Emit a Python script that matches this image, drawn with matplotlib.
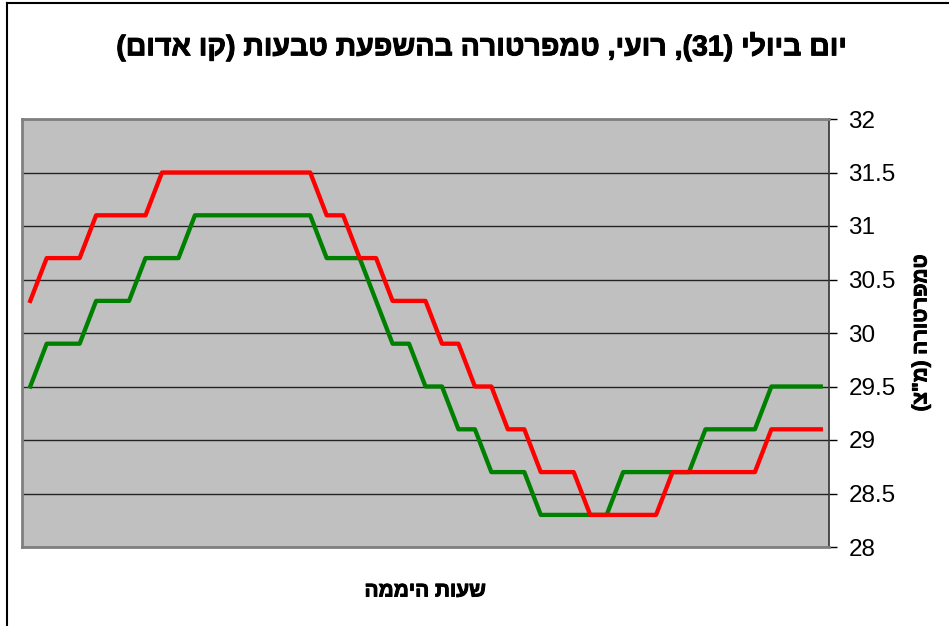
""" temperature along the day - Roei, July 31st (red line = with rings) """

import re
import numpy
import matplotlib
matplotlib.use('Agg')
import matplotlib.pyplot as plt
import matplotlib.patheffects as pe
from matplotlib.lines import Line2D

plt.rcParams['font.family'] = ['Liberation Sans', 'DejaVu Sans']

# Hebrew texts in logical order
title = 'יום ביולי (31), רועי, טמפרטורה בהשפעת טבעות (קו אדום)'
xTitle = 'שעות היממה'
yTitle = 'טמפרטורה (מ"צ)'

# 49 readings, half hour apart
hours = numpy.arange(49)
green = [29.5, 29.9, 29.9, 29.9, 30.3, 30.3, 30.3, 30.7, 30.7, 30.7,
         31.1, 31.1, 31.1, 31.1, 31.1, 31.1, 31.1, 31.1, 30.7, 30.7,
         30.7, 30.3, 29.9, 29.9, 29.5, 29.5, 29.1, 29.1, 28.7, 28.7,
         28.7, 28.3, 28.3, 28.3, 28.3, 28.3, 28.7, 28.7, 28.7, 28.7,
         28.7, 29.1, 29.1, 29.1, 29.1, 29.5, 29.5, 29.5, 29.5]
red = [30.3, 30.7, 30.7, 30.7, 31.1, 31.1, 31.1, 31.1, 31.5, 31.5,
       31.5, 31.5, 31.5, 31.5, 31.5, 31.5, 31.5, 31.5, 31.1, 31.1,
       30.7, 30.7, 30.3, 30.3, 30.3, 29.9, 29.9, 29.5, 29.5, 29.1,
       29.1, 28.7, 28.7, 28.7, 28.3, 28.3, 28.3, 28.3, 28.3, 28.7,
       28.7, 28.7, 28.7, 28.7, 28.7, 29.1, 29.1, 29.1, 29.1]
yTicks = [28, 28.5, 29, 29.5, 30, 30.5, 31, 31.5, 32]


def visual(s):
    """matplotlib has no bidi - flip the string to display order"""
    out = s[::-1].translate(str.maketrans('()', ')('))
    # numbers keep left to right order
    return re.sub(r'\d+', lambda m: m.group(0)[::-1], out)


W, H = 949, 626
fig = plt.figure(figsize=(W / 100, H / 100), dpi=100)
ax = fig.add_axes([22 / W, 1 - 547 / H, 807 / W, 428 / H])
ax.set_facecolor('#C0C0C0')

ax.plot(hours, green, color='#008000', lw=3.1, solid_joinstyle='round', zorder=3)
ax.plot(hours, red, color='#FF0000', lw=3.1, solid_joinstyle='round', zorder=4)

ax.set_xlim(-0.5, 48.5)
ax.set_ylim(28, 32)
ax.set_xticks([])
ax.set_yticks(yTicks)
ax.set_yticklabels(['%g' % v for v in yTicks])
ax.yaxis.tick_right()
ax.tick_params(axis='y', direction='out', length=6, width=1, pad=8,
               labelsize=17.5, colors='black')
ax.grid(axis='y', color='#222222', lw=1)
ax.set_axisbelow(True)

for side in ['left', 'top', 'bottom']:
    ax.spines[side].set_color('#808080')
    ax.spines[side].set_linewidth(2)
ax.spines['right'].set_color('#333333')
ax.spines['right'].set_linewidth(1.2)

# titles - a thin stroke makes the hebrew look as heavy as the original
heavy = [pe.withStroke(linewidth=0.7, foreground='black')]
fig.text(481 / W, 1 - 47 / H, visual(title), ha='center', va='center',
         fontsize=20.5, fontweight='bold', path_effects=heavy)
fig.text(425 / W, 1 - 591 / H, visual(xTitle), ha='center', va='center',
         fontsize=15, fontweight='bold', path_effects=heavy)
fig.text(921 / W, 1 - 333 / H, visual(yTitle), ha='center', va='center',
         fontsize=14.8, fontweight='bold', rotation=90, path_effects=heavy)

# chart area border (cut by the picture on right and bottom)
fig.add_artist(Line2D([7 / W, 1], [1 - 3 / H, 1 - 3 / H], color='black', lw=1.5))
fig.add_artist(Line2D([7 / W, 7 / W], [0, 1 - 3 / H], color='black', lw=1.5))

plt.savefig('out.png', dpi=100)
